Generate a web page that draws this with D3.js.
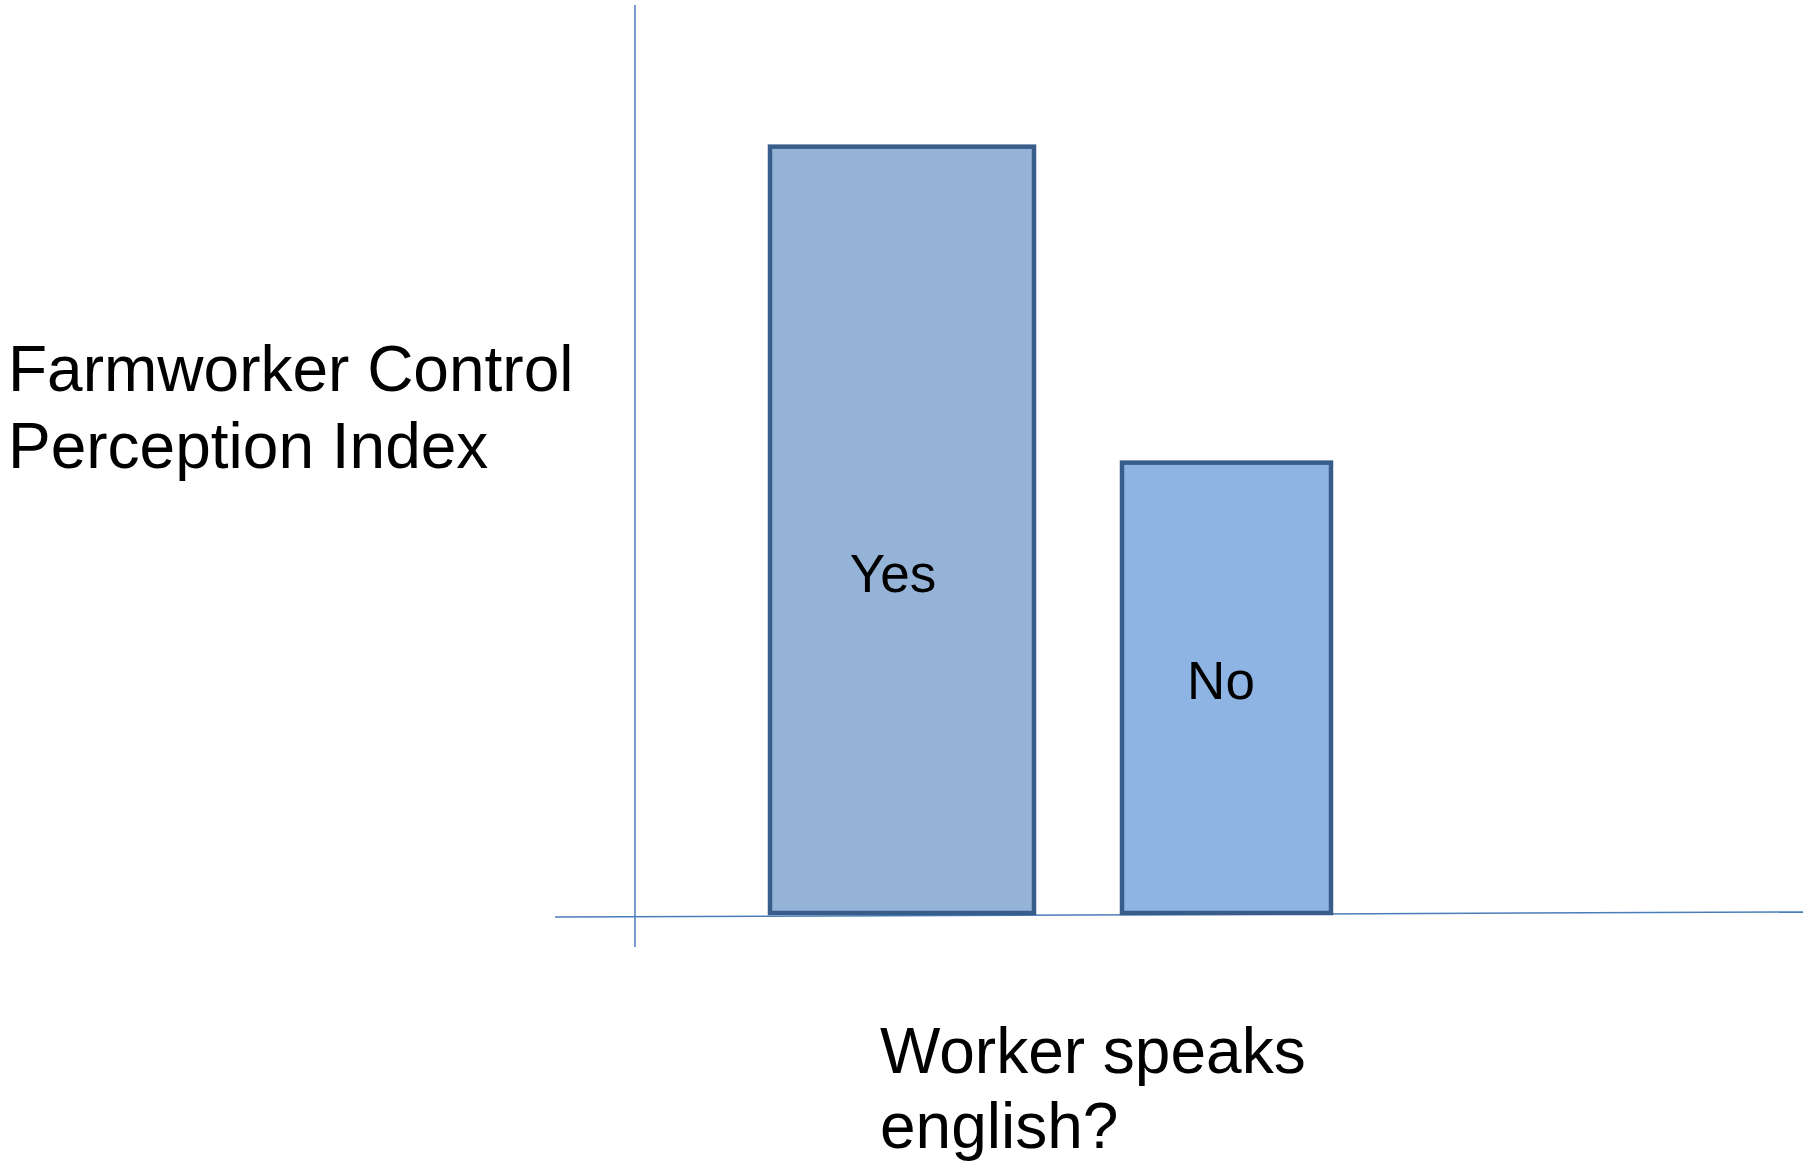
<!DOCTYPE html>
<head>
    <meta charset="utf-8">
    <style>
        body { margin: 0; background: #fff; }
        svg text { font-family: "Liberation Sans", Arial, sans-serif; fill: #000; }
        .bar { stroke: #385d8a; stroke-width: 4.5px; }
        .axis-line { stroke: #4a7ebb; stroke-width: 1.5px; fill: none; }
        .title { font-size: 64px; }
        .bar-label { font-size: 53px; text-anchor: middle; }
    </style>
</head>

<body>
    <script src="https://d3js.org/d3.v7.min.js"></script>

    <script>
        var width = 1806,
            height = 1161;

        // chart data (index value, no ticks shown)
        var categories = ["Yes", "No"];
        var values = [84.4, 49.6];
        var fills = ["#95b3d7", "#8eb4e3"];
        var yTitle = ["Farmworker Control", "Perception Index"];
        var xTitle = ["Worker speaks", "english?"];

        var svg = d3.select("body").append("svg")
            .attr("width", width)
            .attr("height", height);

        var y = d3.scaleLinear().domain([0, 100]).range([913, 5]);

        // bars are drawn at hand-placed slots, not evenly spaced
        var xLeft = d3.scaleOrdinal().domain(categories).range([770, 1122]);
        var xWidth = d3.scaleOrdinal().domain(categories).range([264, 209]);
        // label spots inside the bars, as placed in the original
        var labelX = d3.scaleOrdinal().domain(categories).range([893, 1221]);
        var labelY = d3.scaleOrdinal().domain(categories).range([592, 699]);

        var data = categories.map(function(c, i) {
            return {cat: c, value: values[i], fill: fills[i]};
        });

        //y axis line
        svg.append("line")
            .attr("class", "axis-line")
            .attr("x1", 635).attr("x2", 635)
            .attr("y1", 5).attr("y2", 947);

        //x axis line (slightly tilted like the original)
        svg.append("line")
            .attr("class", "axis-line")
            .attr("x1", 555).attr("y1", 917)
            .attr("x2", 1803).attr("y2", 912);

        //bars
        svg.selectAll(".bar")
            .data(data)
            .enter().append("rect")
            .attr("class", "bar")
            .attr("x", function(d) { return xLeft(d.cat); })
            .attr("width", function(d) { return xWidth(d.cat); })
            .attr("y", function(d) { return y(d.value); })
            .attr("height", function(d) { return y(0) - y(d.value); })
            .style("fill", function(d) { return d.fill; });

        //labels inside the bars
        svg.selectAll(".bar-label")
            .data(data)
            .enter().append("text")
            .attr("class", "bar-label")
            .attr("x", function(d) { return labelX(d.cat); })
            .attr("y", function(d) { return labelY(d.cat); })
            .text(function(d) { return d.cat; });

        //y title
        svg.append("text")
            .attr("class", "title")
            .attr("x", 8)
            .attr("y", 391)
            .selectAll("tspan")
            .data(yTitle)
            .enter().append("tspan")
            .attr("x", 8)
            .attr("dy", function(d, i) { return i ? 77 : 0; })
            .text(function(d) { return d; });

        //x title
        svg.append("text")
            .attr("class", "title")
            .attr("x", 880)
            .attr("y", 1073)
            .selectAll("tspan")
            .data(xTitle)
            .enter().append("tspan")
            .attr("x", 880)
            .attr("dy", function(d, i) { return i ? 75 : 0; })
            .text(function(d) { return d; });
    </script>
</body>
